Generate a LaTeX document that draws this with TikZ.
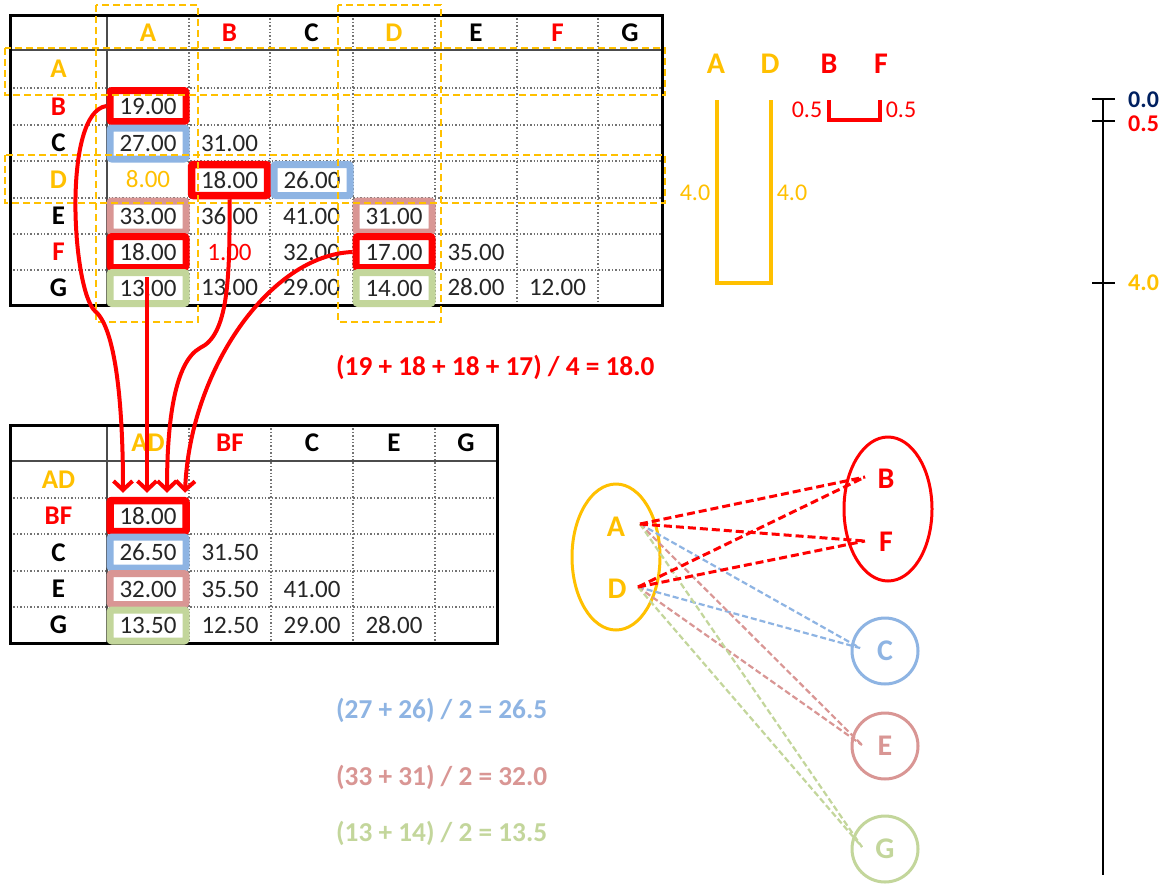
\documentclass[tikz,border=0pt]{standalone}
\usepackage{fontspec}
\setmainfont{Carlito}
\usetikzlibrary{arrows.meta,shapes.geometric,calc}
\definecolor{cOr}{HTML}{FFC000}
\definecolor{cRd}{HTML}{FF0000}
\definecolor{cBl}{HTML}{8EB4E3}
\definecolor{cPk}{HTML}{D99694}
\definecolor{cGr}{HTML}{C3D69B}
\definecolor{cNv}{HTML}{002060}
\definecolor{cTx}{HTML}{262626}
\begin{document}
\begin{tikzpicture}[x=1pt,y=-1pt,
 num/.style={font=\fontsize{25}{29}\selectfont, text=cTx, inner sep=0pt, minimum width=76pt, minimum height=31pt},
 lab/.style={font=\fontsize{27}{31}\selectfont\bfseries, inner sep=0pt},
 blab/.style={font=\fontsize{30}{34}\selectfont\bfseries, inner sep=0pt},
 hbox/.style={draw=#1, line width=7pt, rounded corners=2pt},
 gridl/.style={line width=1.4pt, dotted, black!55},
 frame/.style={line width=3pt, black},
 sepl/.style={line width=1.5pt, black!70},
 ydash/.style={draw=cOr, line width=2.2pt, dash pattern=on 7pt off 4pt},
 arr/.style={draw=cRd, line width=4pt, -{Straight Barb[length=9pt,width=19pt]}},
 formula/.style={font=\fontsize{27.3}{31}\selectfont\bfseries, anchor=west, inner sep=0pt},
 gdash/.style={line width=2.2pt, dash pattern=on 6pt off 3pt},
 rdash/.style={draw=cRd, line width=3pt, dash pattern=on 8pt off 4pt},
 dend/.style={line width=4pt},
 vlab/.style={font=\fontsize{24}{28}\selectfont, inner sep=0pt},
 axlab/.style={font=\fontsize{24}{28}\selectfont\bfseries, anchor=west, inner sep=0pt}
]
\useasboundingbox (0,0) rectangle (1167,886);
\fill[white] (0,0) rectangle (1167,886);

% ---------- top table grid ----------
\foreach \x in {189,270,353,435,517,598} \draw[gridl] (\x,15) -- (\x,305);
\foreach \y in {88,125,161,198,234,270} \draw[gridl] (10,\y) -- (662,\y);
\draw[sepl] (107,15) -- (107,305);
\draw[sepl] (10,50) -- (662,50);
\draw[frame] (10,15) rectangle (662,305);

% header
\node[lab, text=cOr] (hA) at (148,33) {A};
\node[lab, text=cRd] (hB) at (229.5,33) {B};
\node[lab] (hC) at (311.5,33) {C};
\node[lab, text=cOr] (hD) at (394,33) {D};
\node[lab] (hE) at (476,33) {E};
\node[lab, text=cRd] (hF) at (557.5,33) {F};
\node[lab] (hG) at (630,33) {G};
% row labels
\node[lab, text=cOr] (rA) at (58.5,69) {A};
\node[lab, text=cRd] (rB) at (58.5,106.5) {B};
\node[lab] (rC) at (58.5,143) {C};
\node[lab, text=cOr] (rD) at (58.5,179.5) {D};
\node[lab] (rE) at (58.5,216) {E};
\node[lab, text=cRd] (rF) at (58.5,252) {F};
\node[lab] (rG) at (58.5,287.5) {G};
% cells
\node[num, hbox=cRd] (tBA) at (148,106) {19.00};
\node[num, hbox=cBl] (tCA) at (148,143.5) {27.00};
\node[num] (tCB) at (229.5,143) {31.00};
\node[num, text=cOr] (tDA) at (148,179.5) {8.00};
\node[num, hbox=cRd, line width=7.5pt] (tDB) at (229.5,180) {18.00};
\node[num, hbox=cBl] (tDC) at (312,180) {26.00};
\node[num, hbox=cPk] (tEA) at (148,216.5) {33.00};
\node[num] (tEB) at (229.5,216) {36.00};
\node[num] (tEC) at (311.5,216) {41.00};
\node[num, hbox=cPk] (tED) at (394,216.5) {31.00};
\node[num, hbox=cRd] (tFA) at (148,252) {18.00};
\node[num, text=cRd] (tFB) at (229.5,252) {1.00};
\node[num] (tFC) at (311.5,252) {32.00};
\node[num, hbox=cRd] (tFD) at (394,252) {17.00};
\node[num] (tFE) at (476,252) {35.00};
\node[num, hbox=cGr] (tGA) at (148,288) {13.00};
\node[num] (tGB) at (229.5,287.5) {13.00};
\node[num] (tGC) at (311.5,287.5) {29.00};
\node[num, hbox=cGr] (tGD) at (394,288) {14.00};
\node[num] (tGE) at (476,287.5) {28.00};
\node[num] (tGF) at (557.5,287.5) {12.00};

% yellow dashed selections
\draw[ydash] (96,5) rectangle (198,322);
\draw[ydash] (338,5) rectangle (441,322);
\draw[ydash] (5,48) rectangle (665,95);
\draw[ydash] (5,155) rectangle (665,203);

% ---------- bottom table ----------
\foreach \x in {189,271,353,435} \draw[gridl] (\x,425) -- (\x,643);
\foreach \y in {498,534,571,607} \draw[gridl] (10,\y) -- (497,\y);
\draw[sepl] (107,425) -- (107,643);
\draw[sepl] (10,461) -- (497,461);
\draw[frame] (10,425) rectangle (497,643);

\node[lab, text=cOr] (bhAD) at (148,443) {AD};
\node[lab, text=cRd] (bhBF) at (230,443) {BF};
\node[lab] (bhC) at (312,443) {C};
\node[lab] (bhE) at (394,443) {E};
\node[lab] (bhG) at (466,443) {G};
\node[lab, text=cOr] (brAD) at (58.5,480) {AD};
\node[lab, text=cRd] (brBF) at (58.5,516) {BF};
\node[lab] (brC) at (58.5,552.5) {C};
\node[lab] (brE) at (58.5,589) {E};
\node[lab] (brG) at (58.5,625) {G};

\node[num, hbox=cRd, line width=7.5pt] (bBF) at (148,516) {18.00};
\node[num, hbox=cBl] (bC1) at (148,552.5) {26.50};
\node[num] (bC2) at (230,552.5) {31.50};
\node[num, hbox=cPk] (bE1) at (148,589) {32.00};
\node[num] (bE2) at (230,589) {35.50};
\node[num] (bE3) at (312,589) {41.00};
\node[num, hbox=cGr] (bG1) at (148,625.5) {13.50};
\node[num] (bG2) at (230,625) {12.50};
\node[num] (bG3) at (312,625) {29.00};
\node[num] (bG4) at (394,625) {28.00};

% ---------- arrows ----------
\coordinate (e1) at ($(bBF.north)+(-25,-4)$);
\coordinate (e2) at ($(bBF.north)+(-1,-4)$);
\coordinate (e3) at ($(bBF.north)+(19,-4)$);
\coordinate (e4) at ($(bBF.north)+(37,-4)$);
\coordinate (s2) at ($(tGA.center)+(-1,-11)$);
\draw[arr] (tBA.west) .. controls (62,112) and (72,290) .. (95,311) .. controls (118,330) and (123,420) .. (e1);
\draw[arr] (s2) -- (e2);
\draw[arr] (tDB.south) .. controls (230,280) and (228,335) .. (200,348) .. controls (175,362) and (167,420) .. (e3);
\draw[arr] (tFD.west) .. controls (270,255) and (190,370) .. (e4);

% ---------- formulas ----------
\node[formula, text=cRd] (fR) at (336,367) {(19 + 18 + 18 + 17) / 4 = 18.0};
\node[formula, text=cBl] (fB) at (336,710) {(27 + 26) / 2 = 26.5};
\node[formula, text=cPk] (fP) at (336,777) {(33 + 31) / 2 = 32.0};
\node[formula, text=cGr] (fG) at (336,833) {(13 + 14) / 2 = 13.5};

% ---------- dendrogram pieces ----------
\node[blab, text=cOr] (dA) at (716,64) {A};
\node[blab, text=cOr] (dD) at (770,64) {D};
\node[blab, text=cRd] (dB) at (829,64) {B};
\node[blab, text=cRd] (dF) at (881,64) {F};
\draw[dend, cOr] (717,100) -- (717,283) -- (771,283) -- (771,100);
\draw[dend, cRd] (829,100) -- (829,120) -- (880,120) -- (880,100);
\node[vlab, text=cOr] (vA) at (695,193) {4.0};
\node[vlab, text=cOr] (vD) at (792,193) {4.0};
\node[vlab, text=cRd] (vB) at (807,110) {0.5};
\node[vlab, text=cRd] (vF) at (901,110) {0.5};

% ---------- axis ----------
\draw[line width=2pt] (1103,99) -- (1103,875);
\draw[line width=2pt] (1092,99) -- (1115,99);
\draw[line width=2pt] (1092,121) -- (1115,121);
\draw[line width=2pt] (1092,283) -- (1115,283);
\node[axlab, text=cNv] (a0) at (1128,100) {0.0};
\node[axlab, text=cRd] (a05) at (1128,124) {0.5};
\node[axlab, text=cOr] (a4) at (1128,283) {4.0};

% ---------- cluster graph ----------
\node[ellipse, draw=cOr, line width=3pt, minimum width=88pt, minimum height=146pt] (eAD) at (616,557) {};
\node[ellipse, draw=cRd, line width=3pt, minimum width=88pt, minimum height=144pt] (eBF) at (888,509) {};
\node[blab, text=cOr] (gA) at (616,527) {A};
\node[blab, text=cOr] (gD) at (617,589) {D};
\node[blab, text=cRd] (gB) at (886,479) {B};
\node[blab, text=cRd] (gF) at (886,542) {F};
\node[circle, draw=cBl, line width=3pt, minimum size=66pt, blab, text=cBl] (gC) at (885,651) {C};
\node[circle, draw=cPk, line width=3pt, minimum size=66pt, blab, text=cPk] (gE) at (885,746) {E};
\node[circle, draw=cGr, line width=3pt, minimum size=66pt, blab, text=cGr] (gG) at (885,849) {G};

\coordinate (pA) at (640,524);
\coordinate (pD) at (638,587);
\coordinate (qB) at (865,477);
\coordinate (qF) at (865,541);
\coordinate (qC) at (860,648);
\coordinate (qE) at (862,745);
\coordinate (qG) at (862,847);
\draw[gdash, cBl] (pA) -- (qC);
\draw[gdash, cBl] (pD) -- (qC);
\draw[gdash, cPk] (pA) -- (qE);
\draw[gdash, cPk] (pD) -- (qE);
\draw[gdash, cGr] (pA) -- (qG);
\draw[gdash, cGr] (pD) -- (qG);
\draw[rdash] (pA) -- (qB);
\draw[rdash] (pA) -- (qF);
\draw[rdash] (pD) -- (qB);
\draw[rdash] (pD) -- (qF);
\end{tikzpicture}
\end{document}
